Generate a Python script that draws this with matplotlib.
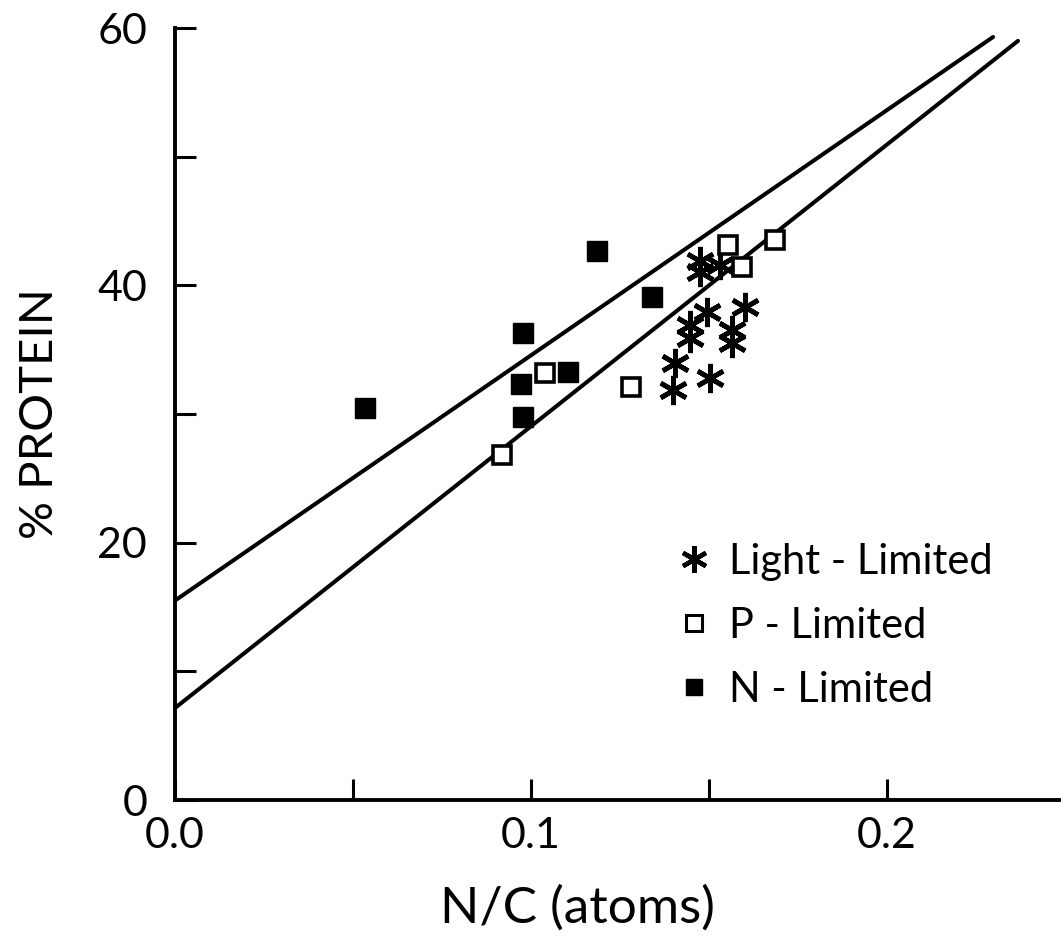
import matplotlib.pyplot as plt
from matplotlib.lines import Line2D

plt.rcParams['font.family'] = ['Lato', 'DejaVu Sans']

# light-limited (asterisks)
light_nc = [0.1475, 0.1475, 0.1531, 0.1494, 0.1601, 0.1447, 0.1447, 0.1565, 0.1565, 0.1404, 0.1503, 0.1399]
light_prot = [41.9, 41.0, 41.6, 37.9, 38.3, 36.9, 35.9, 36.5, 35.5, 34.0, 32.8, 31.9]

# P-limited (open squares)
p_nc = [0.0919, 0.1040, 0.1280, 0.1553, 0.1593, 0.1685]
p_prot = [26.8, 33.2, 32.1, 43.1, 41.4, 43.5]

# N-limited (filled squares)
n_nc = [0.0534, 0.0978, 0.0972, 0.0978, 0.1104, 0.1185, 0.1340]
n_prot = [30.5, 36.3, 32.3, 29.8, 33.3, 42.7, 39.1]

# regression lines (endpoints)
line_upper_x = [0.0, 0.2298]
line_upper_y = [15.5, 59.3]
line_lower_x = [0.0, 0.2368]
line_lower_y = [7.15, 59.0]

fig = plt.figure(figsize=(10.61, 9.51), dpi=100)
ax = fig.add_axes([175 / 1061, 151 / 951, 890 / 1061, 772 / 951])

ax.plot(line_upper_x, line_upper_y, c='k', lw=2.9, solid_capstyle='round', clip_on=False)
ax.plot(line_lower_x, line_lower_y, c='k', lw=2.9, solid_capstyle='round', clip_on=False)

ax.plot(light_nc, light_prot, ls='none', marker=(6, 2, 0), ms=21, mec='k', mew=3.4, clip_on=False)
ax.plot(p_nc, p_prot, ls='none', marker='s', ms=13, mfc='white', mec='k', mew=2.6, clip_on=False)
ax.plot(n_nc, n_prot, ls='none', marker='s', ms=15, mfc='k', mec='k', mew=1, clip_on=False)

ax.set_xlim(0, 0.25)
ax.set_ylim(0, 60)
ax.set_xticks([0.0, 0.1, 0.2])
ax.set_xticklabels(['0.0', '0.1', '0.2'])
ax.set_xticks([0.05, 0.15], minor=True)
ax.set_yticks([0, 20, 40, 60])
ax.set_yticks([10, 30, 50], minor=True)

for s in ['top', 'right']:
    ax.spines[s].set_visible(False)
for s in ['left', 'bottom']:
    ax.spines[s].set_linewidth(2.8)

ax.tick_params(which='both', direction='in', length=15, width=2.2)
ax.tick_params(axis='y', which='major', labelsize=31, pad=20)
ax.tick_params(axis='x', which='major', labelsize=31, pad=12)

ax.set_xlabel('N/C (atoms)', fontsize=37, labelpad=28)
ax.xaxis.set_label_coords(0.452, -0.11)
ax.set_ylabel('% PROTEIN', fontsize=34, labelpad=26)

handles = [
    Line2D([], [], ls='none', marker=(6, 2, 0), ms=19, mec='k', mew=3.2),
    Line2D([], [], ls='none', marker='s', ms=11, mfc='white', mec='k', mew=2.2),
    Line2D([], [], ls='none', marker='s', ms=11, mfc='k', mec='k'),
]
ax.legend(handles, ['Light - Limited', 'P - Limited', 'N - Limited'],
          loc='upper left', bbox_to_anchor=(652 / 1061, 1 - 522 / 951),
          bbox_transform=fig.transFigure, frameon=False, fontsize=30,
          handlelength=1.0, handletextpad=0.35, labelspacing=0.62, borderpad=0)

fig.savefig('out.png', dpi=100)
